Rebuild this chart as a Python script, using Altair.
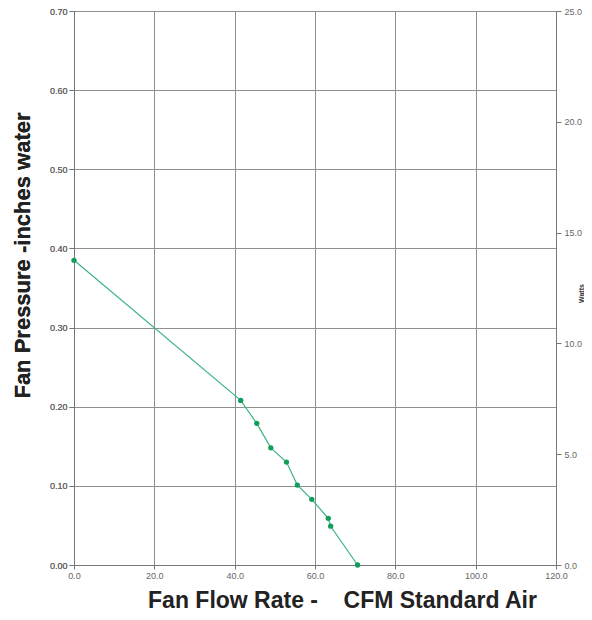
import altair as alt
import pandas as pd

flow_cfm = [0.0, 41.5, 45.5, 49.0, 52.9, 55.6, 59.2, 63.3, 63.9, 70.6]
pressure_in = [0.385, 0.208, 0.179, 0.148, 0.130, 0.101, 0.083, 0.059, 0.049, 0.0]
watts_domain = [0.0, 25.0]

x_ticks = [0, 20, 40, 60, 80, 100, 120]
y_ticks = [0.0, 0.1, 0.2, 0.3, 0.4, 0.5, 0.6, 0.7]
w_ticks = [0, 5, 10, 15, 20, 25]

df = pd.DataFrame({"flow": flow_cfm, "pressure": pressure_in})
dw = pd.DataFrame({"watts": watts_domain})

FONT = "Liberation Sans"
GRID = "#8f8f8f"
NB = "\u00a0"

x_enc = alt.X(
    "flow:Q",
    scale=alt.Scale(domain=[0, 120], nice=False),
    axis=alt.Axis(
        values=x_ticks, format=".1f", title="Fan Flow Rate -" + NB * 4 + "CFM Standard Air",
        titleFontSize=23, titleFont=FONT, titleFontWeight="bold", titleColor="#222",
        titleX=268, titleY=42, titleAlign="center", titleBaseline="alphabetic",
        labelFontSize=9, labelFont=FONT, labelColor="#666", labelPadding=2, labelFlush=False,
        grid=True, gridColor=GRID, domainColor="#777", tickColor="#777", tickSize=4,
    ),
)
y_enc = alt.Y(
    "pressure:Q",
    scale=alt.Scale(domain=[0, 0.7], nice=False),
    axis=alt.Axis(
        values=y_ticks, format=".2f", title="Fan Pressure -inches water", orient="left",
        titleFontSize=22, titleFont=FONT, titleFontWeight="bold", titleColor="#222",
        titleX=-52, titleY=244, titleAngle=270, titleAlign="center", titleBaseline="middle",
        labelFontSize=9, labelFont=FONT, labelColor="#666", labelPadding=2, labelFlush=False,
        grid=True, gridColor=GRID, domainColor="#777", tickColor="#777", tickSize=5,
    ),
)

line = alt.Chart(df).mark_line(color="#3cb484", strokeWidth=1.2).encode(x=x_enc, y=y_enc)
pts = alt.Chart(df).mark_point(filled=True, color="#129e5a", size=28, opacity=1).encode(x=x_enc, y=y_enc)

watts = alt.Chart(dw).mark_point(opacity=0).encode(
    y=alt.Y(
        "watts:Q",
        scale=alt.Scale(domain=[0, 25], nice=False),
        axis=alt.Axis(
            values=w_ticks, format=".1f", title="Watts", orient="right",
            titleFontSize=7, titleFont=FONT, titleFontWeight="bold", titleColor="#333",
            titleX=25, titleY=282, titleAngle=270, titleAlign="center", titleBaseline="middle",
            labelFontSize=9, labelFont=FONT, labelColor="#666", labelPadding=3, labelFlush=False,
            grid=False, domainColor="#777", tickColor="#777", tickSize=5,
        ),
    )
)

chart = (
    alt.layer(line, pts, watts)
    .resolve_scale(y="independent")
    .properties(
        width=482,
        height=554,
        autosize=alt.AutoSizeParams(type="none"),
        padding={"left": 66, "top": 3, "right": 28, "bottom": 47},
        background="white",
    )
    .configure_view(stroke=GRID, strokeWidth=1)
)

chart.save("out.html", embed_options={"renderer": "svg", "actions": False})
